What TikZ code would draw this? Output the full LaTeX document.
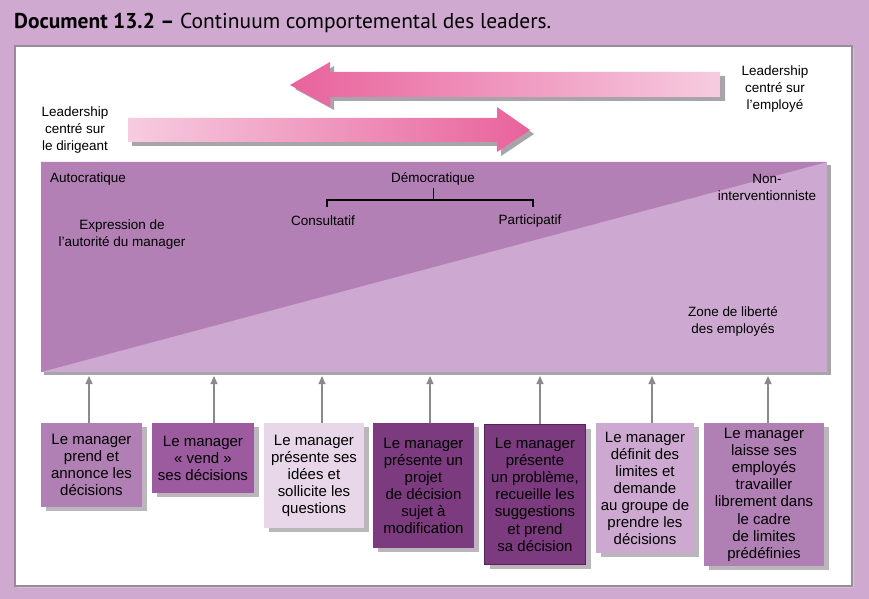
\documentclass[tikz,border=0pt]{standalone}
\usepackage{fontspec}
\setmainfont{Liberation Sans}
\newfontfamily\titlefont{PT Sans}
\usetikzlibrary{arrows.meta,shadows}
\definecolor{bg}{HTML}{D0A9D1}
\definecolor{framegray}{HTML}{9A8A9C}
\definecolor{zonedark}{HTML}{B280B4}
\definecolor{zonelight}{HTML}{CDA9D1}
\definecolor{boxmid}{HTML}{B07FB3}
\definecolor{boxtwo}{HTML}{9B5B9E}
\definecolor{boxpale}{HTML}{E8D6E9}
\definecolor{boxdeep}{HTML}{7C3A7F}
\definecolor{boxedge}{HTML}{5B1F5E}
\definecolor{pinkdark}{HTML}{E8629B}
\definecolor{pinklight}{HTML}{F6CCE0}
\definecolor{shadowgray}{HTML}{A9A4AA}
\definecolor{arrgray}{HTML}{8A8A8A}
\tikzset{
  lbl/.style={inner sep=0pt, align=center, font=\fontsize{11.5}{14.5}\selectfont},
  mbox/.style={anchor=north, inner sep=0pt, align=center, minimum height=#1,
     font=\fontsize{12.8}{14.6}\selectfont,
     drop shadow={shadow xshift=0.15cm, shadow yshift=-0.12cm, fill=shadowgray, opacity=0.8}},
  uparr/.style={draw=arrgray, line width=1.3pt, -{Triangle[length=7pt,width=6pt]}},
}
\begin{document}
\begin{tikzpicture}[x=0.03cm,y=-0.03cm]
\fill[bg] (0,0) rectangle (869,599);
\useasboundingbox (0,0) rectangle (869,599);
\node[anchor=base west, inner sep=0pt, font=\titlefont\fontsize{18.3}{21}\selectfont] (title) at (14,29) {\textbf{Document 13.2 –} Continuum comportemental des leaders.};
% panel
\fill[shadowgray!60] (17,48) rectangle (854,588);
\filldraw[fill=white, draw=framegray, line width=1.2pt] (15,46) rectangle (852,586);
% arrows
\fill[shadowgray] (295,89) -- (334,66) -- (334,76) -- (725,76) -- (725,101) -- (334,101) -- (334,110) -- cycle;
\shade[left color=pinkdark, right color=pinklight] (290,85) -- (330,62) -- (330,72) -- (720,72) -- (720,97) -- (330,97) -- (330,107) -- cycle;
\fill[shadowgray] (132,122) -- (501,122) -- (501,111) -- (534,134) -- (501,156) -- (501,146) -- (132,146) -- cycle;
\shade[left color=pinklight, right color=pinkdark] (128,118) -- (497,118) -- (497,107) -- (530,130) -- (497,152) -- (497,142) -- (128,142) -- cycle;
\node[lbl] (lead1) at (75,130) {Leadership\\centré sur\\le dirigeant};
\node[lbl] (lead2) at (775,89) {Leadership\\centré sur\\l'employé};
% continuum
\fill[shadowgray] (44,165) rectangle (831,375);
\fill[zonelight] (41,162) rectangle (827,372);
\fill[zonedark] (41,162) -- (827,162) -- (41,372) -- cycle;
\node[lbl, anchor=west] (auto) at (50,179) {Autocratique};
\node[lbl] (demo) at (433,179) {Démocratique};
\node[lbl] (cons) at (323,221) {Consultatif};
\node[lbl] (part) at (530,221) {Participatif};
\node[lbl] (nonint) at (767,187) {Non-\\interventionniste};
\node[lbl] (expr) at (122,235) {Expression de\\l'autorité du manager};
\node[lbl] (zone) at (733,321) {Zone de liberté\\des employés};
\coordinate (bl) at (327,207);
\coordinate (br) at (533,207);
\coordinate (bt) at (433,188);
\draw[line width=1.1pt] (bl) -- ++(0,-7) -| (br);
\draw[line width=0.8pt] (bt) -- (433,200);
% boxes
\node[mbox=2.52cm, minimum width=3.03cm, fill=boxmid] (b1) at (91.5,423) {Le manager\\prend et\\annonce les\\décisions};
\node[mbox=2.10cm, minimum width=3.06cm, fill=boxtwo] (b2) at (203,423) {Le manager\\« vend »\\ses décisions};
\node[mbox=3.15cm, minimum width=3.00cm, fill=boxpale] (b3) at (314,423) {Le manager\\présente ses\\idées et\\sollicite les\\questions};
\node[mbox=3.75cm, minimum width=3.03cm, fill=boxdeep] (b4) at (423.5,423) {Le manager\\présente un\\projet\\de décision\\sujet à\\modification};
\node[mbox=4.20cm, minimum width=3.03cm, fill=boxdeep, draw=boxedge, line width=1.2pt] (b5) at (535,424) {Le manager\\présente\\un problème,\\recueille les\\suggestions\\et prend\\sa décision};
\node[mbox=3.90cm, minimum width=2.94cm, fill=zonelight] (b6) at (645,423) {Le manager\\définit des\\limites et\\demande\\au groupe de\\prendre les\\décisions};
\node[mbox=4.29cm, minimum width=3.60cm, fill=boxmid] (b7) at (764,423) {Le manager\\laisse ses\\employés\\travailler\\librement dans\\le cadre\\de limites\\prédéfinies};
% up arrows
\foreach \i/\x in {1/89,2/214,3/322,4/430,5/540,6/652,7/768}{
  \coordinate (t\i) at (\x,376);
  \draw[uparr] (t\i |- b\i.north) -- (t\i);
}
\end{tikzpicture}
\end{document}
